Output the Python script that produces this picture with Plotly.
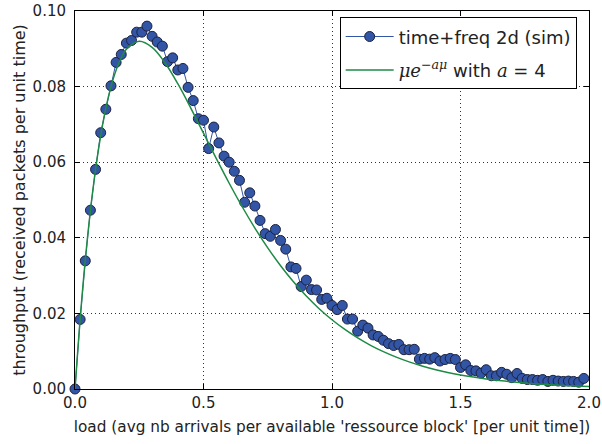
import plotly.graph_objects as go

# simulated points (load step 0.02, from 0 to 1.98)
sim_load = [round(i * 0.02, 2) for i in range(100)]
sim_thr = [
    0.0000, 0.0184, 0.0339, 0.0473, 0.0581, 0.0678, 0.0740, 0.0802, 0.0864, 0.0885,
    0.0915, 0.0922, 0.0944, 0.0944, 0.0960, 0.0933, 0.0918, 0.0907, 0.0866, 0.0876,
    0.0844, 0.0848, 0.0798, 0.0763, 0.0715, 0.0711, 0.0636, 0.0693, 0.0651, 0.0616,
    0.0600, 0.0576, 0.0552, 0.0494, 0.0519, 0.0484, 0.0446, 0.0411, 0.0404, 0.0422,
    0.0393, 0.0370, 0.0323, 0.0319, 0.0271, 0.0288, 0.0263, 0.0262, 0.0237, 0.0240,
    0.0221, 0.0210, 0.0221, 0.0185, 0.0185, 0.0153, 0.0169, 0.0161, 0.0143, 0.0139,
    0.0129, 0.0120, 0.0115, 0.0118, 0.0104, 0.0104, 0.0105, 0.0079, 0.0081, 0.0079,
    0.0083, 0.0074, 0.0078, 0.0081, 0.0078, 0.0057, 0.0064, 0.0049, 0.0048, 0.0042,
    0.0051, 0.0035, 0.0035, 0.0044, 0.0039, 0.0030, 0.0041, 0.0028, 0.0025, 0.0025,
    0.0023, 0.0025, 0.0020, 0.0023, 0.0021, 0.0020, 0.0021, 0.0020, 0.0018, 0.0028,
]

# theoretical curve values
th_load = [0.0, 0.025, 0.05, 0.075, 0.1, 0.125, 0.15, 0.175, 0.2, 0.25, 0.3, 0.35, 0.4,
           0.45, 0.5, 0.55, 0.6, 0.65, 0.7, 0.75, 0.8, 0.85, 0.9, 0.95, 1.0, 1.05, 1.1,
           1.15, 1.2, 1.25, 1.3, 1.35, 1.4, 1.45, 1.5, 1.55, 1.6, 1.65, 1.7, 1.75, 1.8,
           1.85, 1.9, 1.95, 2.0]
th_thr = [0.0, 0.02262, 0.04094, 0.05556, 0.06703, 0.07582, 0.08232, 0.08690, 0.08987,
          0.09197, 0.09036, 0.08630, 0.08076, 0.07439, 0.06767, 0.06094, 0.05443, 0.04828,
          0.04257, 0.03734, 0.03261, 0.02837, 0.02459, 0.02125, 0.01832, 0.01575, 0.01351,
          0.01156, 0.00988, 0.00842, 0.00717, 0.00610, 0.00518, 0.00439, 0.00372, 0.00315,
          0.00266, 0.00224, 0.00189, 0.00160, 0.00134, 0.00113, 0.00095, 0.00080, 0.00067]

x_ticks = [0.0, 0.5, 1.0, 1.5, 2.0]
y_ticks = [0.00, 0.02, 0.04, 0.06, 0.08, 0.10]

font_family = "DejaVu Sans"
math = "font-family:'DejaVu Serif';font-style:italic"

fig = go.Figure()
fig.add_trace(go.Scatter(
    x=sim_load, y=sim_thr, mode="lines+markers",
    name="time+freq 2d (sim)", legendgroup="a",
    line=dict(color="#3355A5", width=1),
    marker=dict(size=10, color="#3355A5", line=dict(color="#1c2240", width=1)),
    cliponaxis=False,
))
fig.add_trace(go.Scatter(
    x=th_load, y=th_thr, mode="lines", legendgroup="b",
    name=(f"<span style=\"{math}\">μe<sup>−aμ</sup></span> with "
          f"<span style=\"{math}\">a</span> = 4"),
    line=dict(color="#1E8A45", width=1.5, shape="spline"),
))

axis_common = dict(
    showline=True, linecolor="black", linewidth=1, mirror="allticks",
    ticks="inside", ticklen=5, tickcolor="black",
    showgrid=True, gridcolor="#333", gridwidth=1, griddash="1px,3px",
    zeroline=False, tickfont=dict(size=15, color="#222"), automargin=False,
    ticklabeloverflow="allow",
)

fig.update_xaxes(range=[0, 2.0], tickvals=x_ticks, tickformat=".1f", ticklabelstandoff=0,
                 title=dict(text="load (avg nb arrivals per available 'ressource block' [per unit time])",
                            font=dict(size=15.3, color="#222"), standoff=10),
                 **axis_common)
fig.update_yaxes(range=[0, 0.10], tickvals=y_ticks, tickformat=".2f", ticklabelstandoff=5,
                 title=dict(text="throughput (received packets per unit time)",
                            font=dict(size=16, color="#222"), standoff=2),
                 **axis_common)

fig.update_layout(
    width=602, height=444,
    margin=dict(l=75, r=13, t=11, b=55),
    paper_bgcolor="white", plot_bgcolor="white",
    font=dict(family=font_family, color="#222"),
    legend=dict(x=0.976, y=0.9833, xanchor="right", yanchor="top",
                bordercolor="black", borderwidth=1, bgcolor="white",
                font=dict(size=18, color="#222"), tracegroupgap=7, itemwidth=48),
    showlegend=True,
)

# remove the default page margin so the figure sits at the window's top-left corner
fig.write_html("out.html", config={"displayModeBar": False},
               post_script="document.body.style.margin='0';")
